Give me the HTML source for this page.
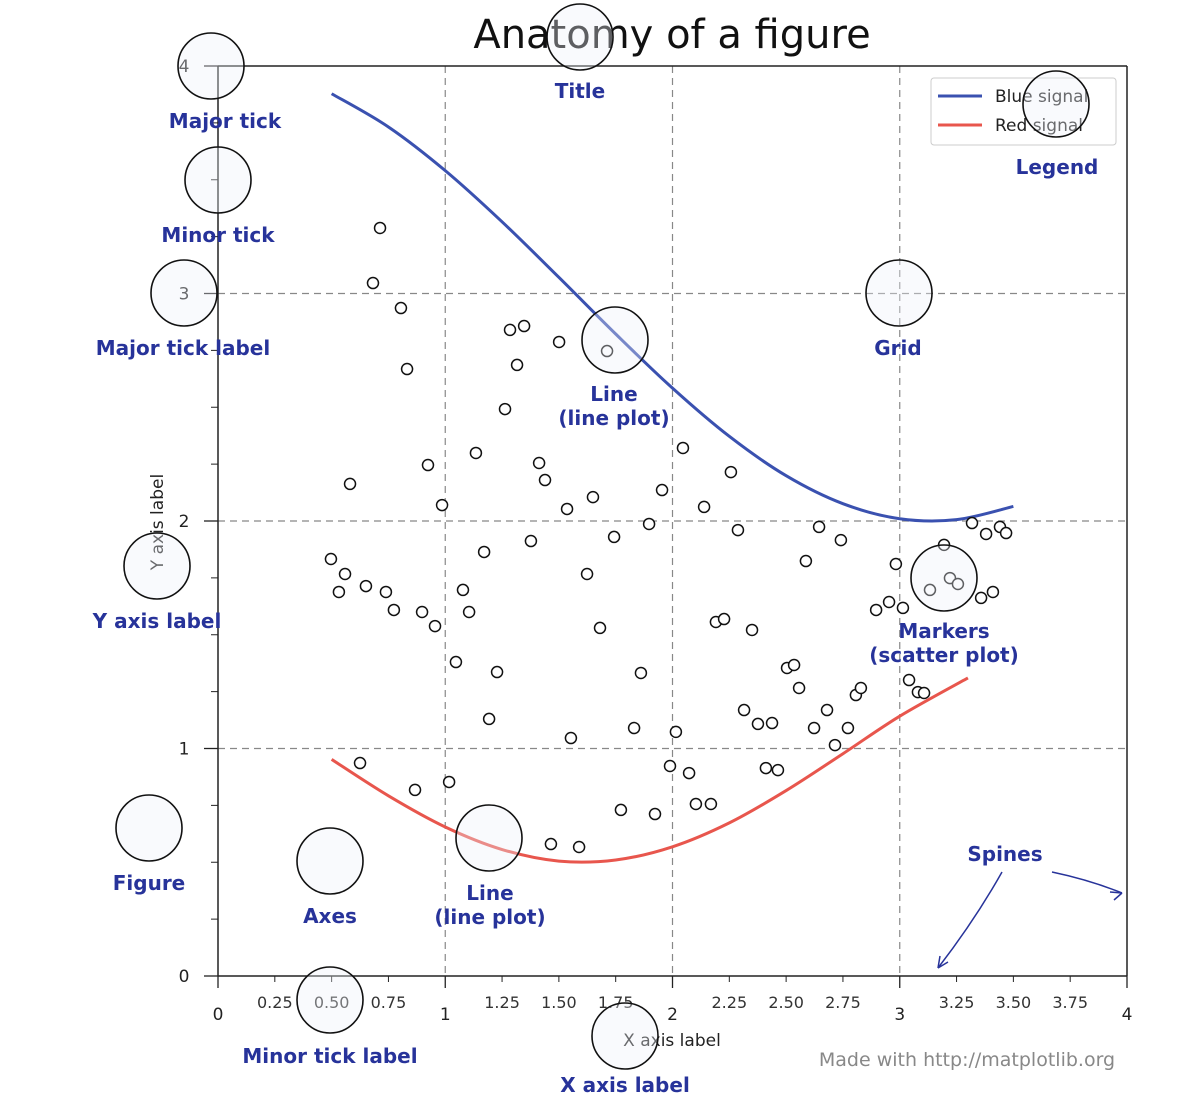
<!DOCTYPE html>
<html><head><meta charset="utf-8">
<style>
html,body{margin:0;padding:0;background:#fff;}
svg{display:block;font-family:"Liberation Sans","DejaVu Sans",sans-serif;}
.lbl{fill:#27339a;font-weight:bold;font-size:20px;text-anchor:middle;font-family:"DejaVu Sans","Liberation Sans",sans-serif;}
.tk{fill:#222;font-size:17px;text-anchor:middle;font-family:"DejaVu Sans",sans-serif;}
.mt{fill:#333;font-size:16px;text-anchor:middle;font-family:"DejaVu Sans",sans-serif;}
</style></head>
<body>
<svg id="fig" width="1198" height="1118" viewBox="0 0 1198 1118">
<rect width="1198" height="1118" fill="#fff"/>
<text x="672" y="48" font-size="40" text-anchor="middle" fill="#111" font-family="DejaVu Sans,sans-serif">Anatomy of a figure</text>
<g id="grid"></g>
<g id="spines"></g>
<g id="ticks"></g>
<g id="lines"></g>
<g id="marks"></g>
<text x="0" y="0" transform="translate(163,522) rotate(-90)" font-size="17" text-anchor="middle" fill="#222" font-family="DejaVu Sans,sans-serif">Y axis label</text>
<text x="672" y="1046" font-size="17" text-anchor="middle" fill="#222" font-family="DejaVu Sans,sans-serif">X axis label</text>
<g>
<rect x="931" y="78" width="185" height="67" rx="3" fill="#fff" stroke="#ccc"/>
<line x1="938" y1="96" x2="982" y2="96" stroke="#3a51b0" stroke-width="3"/>
<text x="995" y="102" font-size="17" fill="#222" font-family="DejaVu Sans,sans-serif">Blue signal</text>
<line x1="938" y1="125" x2="982" y2="125" stroke="#e8564d" stroke-width="3"/>
<text x="995" y="131" font-size="17" fill="#222" font-family="DejaVu Sans,sans-serif">Red signal</text>
</g>
<text x="967" y="1066" font-size="19" text-anchor="middle" fill="#888" font-family="DejaVu Sans,sans-serif">Made with http://matplotlib.org</text>
<g id="annot"></g>
<g fill="none" stroke="#27339a" stroke-width="1.5">
<path d="M1002 872 Q975 920 938 968"/><path d="M938 968 l2 -12 M938 968 l10 -6"/>
<path d="M1052 872 Q1090 880 1122 893"/><path d="M1122 893 l-12 -1 M1122 893 l-8 7"/>
</g>
</svg>
<script>
const xTicks=[0,1,2,3,4];
const yTicks=[0,1,2,3,4];
const xMinor=[0.25,0.5,0.75,1.25,1.5,1.75,2.25,2.5,2.75,3.25,3.5,3.75];
const xMinorLabels=["0.25","0.50","0.75","1.25","1.50","1.75","2.25","2.50","2.75","3.25","3.50","3.75"];
const yMinor=[0.25,0.5,0.75,1.25,1.5,1.75,2.25,2.5,2.75,3.25,3.5,3.75];
const lineX=[0.5,0.75,1.0,1.25,1.5,1.75,2.0,2.25,2.5,2.75,3.0,3.25,3.5];
const blueY=[3.878,3.732,3.540,3.315,3.071,2.822,2.584,2.372,2.199,2.076,2.010,2.006,2.064];
const redX=[0.5,0.75,1.0,1.25,1.5,1.75,2.0,2.25,2.5,2.75,3.0,3.3];
const redY=[0.952,0.792,0.655,0.556,0.505,0.510,0.568,0.673,0.815,0.977,1.142,1.31];
const scatX=[0.713,0.682,0.805,0.832,0.581,0.924,0.986,1.135,1.263,1.285,1.347,1.316,1.501,1.712,1.413,1.439,1.536,1.650,1.377,1.743,1.897,1.954,2.046,2.139,2.257,2.288,0.497,0.559,0.532,0.651,0.739,0.774,0.898,0.955,1.078,1.105,1.171,1.624,1.681,1.047,1.228,1.193,1.553,1.831,1.861,2.015,2.191,2.227,2.350,2.587,2.645,2.741,2.983,2.315,2.376,2.438,2.504,2.535,2.557,2.623,2.680,2.715,2.772,2.807,2.829,2.411,2.464,0.625,0.867,1.017,1.989,2.073,2.103,2.169,1.773,1.923,1.465,1.589,2.896,2.953,3.014,3.041,3.080,3.107,3.133,3.221,3.256,3.195,3.318,3.380,3.441,3.468,3.358,3.410];
const scatY=[3.288,3.046,2.936,2.668,2.163,2.246,2.070,2.299,2.492,2.840,2.857,2.686,2.787,2.747,2.255,2.180,2.053,2.105,1.912,1.930,1.987,2.136,2.321,2.062,2.215,1.960,1.833,1.767,1.688,1.714,1.688,1.609,1.600,1.538,1.697,1.600,1.864,1.767,1.530,1.380,1.336,1.130,1.046,1.090,1.332,1.073,1.556,1.569,1.521,1.824,1.974,1.916,1.811,1.169,1.108,1.112,1.354,1.367,1.266,1.090,1.169,1.015,1.090,1.235,1.266,0.914,0.905,0.936,0.818,0.853,0.923,0.892,0.756,0.756,0.730,0.712,0.580,0.567,1.609,1.644,1.618,1.301,1.248,1.244,1.697,1.749,1.723,1.895,1.991,1.943,1.974,1.947,1.662,1.688];

const NS="http://www.w3.org/2000/svg";
const X0=218,X1=1127,Y0=976,Y1=66;
const sx=v=>X0+(X1-X0)*v/4;
const sy=v=>Y0-(Y0-Y1)*v/4;
function mk(parent,tag,attrs){const e=document.createElementNS(NS,tag);for(const k in attrs)e.setAttribute(k,attrs[k]);parent.appendChild(e);return e;}
const G=id=>document.getElementById(id);

[1,2,3].forEach(v=>{
  const a=mk(G('grid'),'line',{x1:sx(v),x2:sx(v),y1:Y1,y2:Y0,stroke:'#888','stroke-dasharray':'7,5','stroke-width':1.2});
  
  
  const b=mk(G('grid'),'line',{x1:X0,x2:X1,y1:sy(v),y2:sy(v),stroke:'#888','stroke-dasharray':'7,5','stroke-width':1.2});
  
  
});
[[X0,Y1,X0,Y0,'left-spine'],[X0,Y0,X1,Y0,'bottom-spine'],[X0,Y1,X1,Y1,'top-spine'],[X1,Y1,X1,Y0,'right-spine']].forEach(s=>{
  const e=mk(G('spines'),'line',{x1:s[0],y1:s[1],x2:s[2],y2:s[3],stroke:'#222','stroke-width':1.5});
  
  
});
xTicks.forEach(v=>{
  mk(G('ticks'),'line',{x1:sx(v),x2:sx(v),y1:Y0,y2:Y0+12,stroke:'#222','stroke-width':1.3});
  const t=mk(G('ticks'),'text',{x:sx(v),y:1020,class:'tk'});t.textContent=String(v);
  
  
});
yTicks.forEach(v=>{
  mk(G('ticks'),'line',{x1:X0-14,x2:X0,y1:sy(v),y2:sy(v),stroke:'#222','stroke-width':1.3});
  const t=mk(G('ticks'),'text',{x:184,y:sy(v)+6,class:'tk'});t.textContent=String(v);
  
  
});
xMinor.forEach((v,i)=>{
  mk(G('ticks'),'line',{x1:sx(v),x2:sx(v),y1:Y0,y2:Y0+6,stroke:'#222','stroke-width':1});
  const t=mk(G('ticks'),'text',{x:sx(v),y:1008,class:'mt'});t.textContent=xMinorLabels[i];
  
  
});
yMinor.forEach(v=>{mk(G('ticks'),'line',{x1:X0-7,x2:X0,y1:sy(v),y2:sy(v),stroke:'#222','stroke-width':1});});

function smooth(xs,ys){
  const p=xs.map((x,i)=>[sx(x),sy(ys[i])]);
  let d='M'+p[0][0]+' '+p[0][1];
  for(let i=0;i<p.length-1;i++){
    const p0=p[Math.max(0,i-1)],p1=p[i],p2=p[i+1],p3=p[Math.min(p.length-1,i+2)];
    d+=' C'+(p1[0]+(p2[0]-p0[0])/6)+' '+(p1[1]+(p2[1]-p0[1])/6)+' '+(p2[0]-(p3[0]-p1[0])/6)+' '+(p2[1]-(p3[1]-p1[1])/6)+' '+p2[0]+' '+p2[1];
  }
  return d;
}
const bl=mk(G('lines'),'path',{d:smooth(lineX,blueY),fill:'none',stroke:'#3a51b0','stroke-width':3});


const rl=mk(G('lines'),'path',{d:smooth(redX,redY),fill:'none',stroke:'#e8564d','stroke-width':3});



scatX.forEach((x,i)=>{
  const c=mk(G('marks'),'circle',{cx:sx(x),cy:sy(scatY[i]),r:5.5,fill:'#fff',stroke:'#111','stroke-width':1.5});
  
  
});

const ann=[
 [211,66,['Major tick'],225,128],
 [218,180,['Minor tick'],218,242],
 [184,293,['Major tick label'],183,355],
 [157,566,['Y axis label'],157,628],
 [580,37,['Title'],580,98],
 [615,340,['Line','(line plot)'],614,401],
 [899,293,['Grid'],898,355],
 [1056,104,['Legend'],1057,174],
 [944,578,['Markers','(scatter plot)'],944,638],
 [149,828,['Figure'],149,890],
 [330,861,['Axes'],330,923],
 [489,838,['Line','(line plot)'],490,900],
 [330,1000,['Minor tick label'],330,1063],
 [625,1036,['X axis label'],625,1092],
 [null,null,['Spines'],1005,861]
];
ann.forEach(a=>{
  if(a[0]!==null){
    const c=mk(G('annot'),'circle',{cx:a[0],cy:a[1],r:33,fill:'rgba(238,240,248,0.35)',stroke:'#111','stroke-width':1.6});
    
    
  }
  a[2].forEach((s,j)=>{
    const t=mk(G('annot'),'text',{x:a[3],y:a[4]+j*24,class:'lbl'});t.textContent=s;
    
    
  });
});
</script>
</body></html>
